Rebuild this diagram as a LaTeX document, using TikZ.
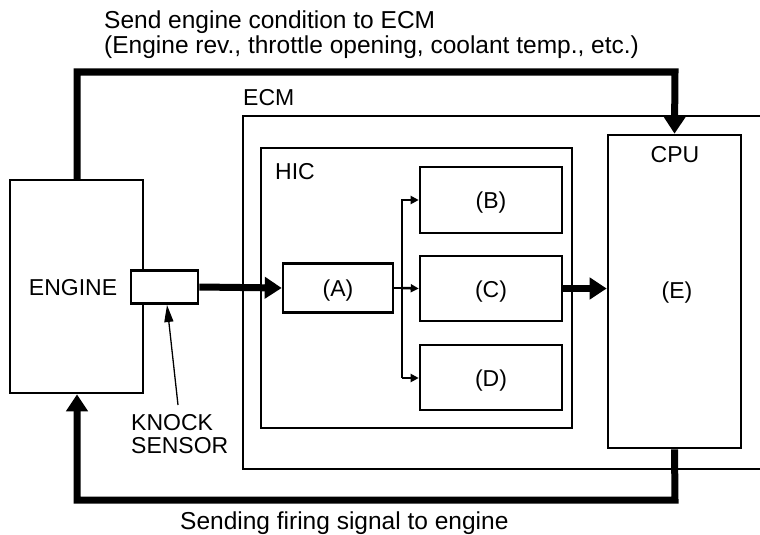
\documentclass[tikz,border=0pt]{standalone}
\usepackage{fontspec}
\setmainfont{Liberation Sans}
\usetikzlibrary{arrows.meta}
\begin{document}
\begin{tikzpicture}[x=1pt,y=-1pt,
  box/.style={draw,line width=2.6pt,fill=white,inner sep=0pt},
  thinbox/.style={draw,line width=1.4pt},
  lbl/.style={font=\fontsize{23}{27}\selectfont,inner sep=0pt},
  captxt/.style={font=\fontsize{24.5}{29}\selectfont,inner sep=0pt,anchor=base west},
  bigarrow/.style={line width=7pt,-{Triangle[length=17pt,width=21pt]}},
  midarrow/.style={line width=2.5pt,-{Triangle[length=8pt,width=8pt]}},
  pointer/.style={line width=1.3pt,-{Triangle[length=17pt,width=9pt]}}]
\useasboundingbox (0,0) rectangle (760,535);
\fill[white] (0,0) rectangle (760,535);
% ECM (open to the right)
\draw[line width=1.4pt] (760,116) -- (243,116) -- (243,469) -- (760,469);
\node[lbl,anchor=base west] (ecmlbl) at (243,105) {ECM};
% HIC
\draw[thinbox] (261,148) rectangle (572,428);
\node[lbl,anchor=base west] (hiclbl) at (275,179) {HIC};
% engine
\node[box,minimum width=133pt,minimum height=213pt] (engine) at (76.5,286.5) {};
\node[lbl,anchor=base] (enginelbl) at (73,295) {ENGINE};
\node[box,minimum width=67pt,minimum height=33pt] (sensor) at (164.5,287) {};
% HIC blocks
\node[box,minimum width=110pt,minimum height=49pt] (A) at (338,288) {};
\node[lbl,anchor=base] at (338,296) {(A)};
\node[box,minimum width=142pt,minimum height=66pt] (B) at (491,200) {};
\node[lbl,anchor=base] at (491,208) {(B)};
\node[box,minimum width=142pt,minimum height=65pt] (C) at (491,288.5) {};
\node[lbl,anchor=base] at (491,297) {(C)};
\node[box,minimum width=142pt,minimum height=65pt] (D) at (491,377.5) {};
\node[lbl,anchor=base] at (491,386) {(D)};
% CPU
\node[box,minimum width=133pt,minimum height=313pt] (cpu) at (674.5,291.5) {};
\node[lbl,anchor=base] (cpulbl) at (675,162) {CPU};
\node[lbl,anchor=base] (elbl) at (677,298) {(E)};
% branch
\coordinate (br) at (402,288);
\draw[line width=2.5pt] (A.east) -- (br);
\draw[line width=2.5pt] (402,199) -- (402,378);
\draw[midarrow] (br) -- (C.west);
\draw[midarrow] (402,200) -- (B.west);
\draw[midarrow] (402,378) -- (D.west |- 0,378);
% thick arrows
\draw[bigarrow] (sensor.east) -- (A.west);
\draw[bigarrow] (C.east) -- (cpu.west |- C.east);
% top loop
\draw[bigarrow] (77,180) -- (77,72) -- (675,72) -- (cpu.north);
% bottom loop
\draw[bigarrow] (cpu.south) -- (675,500) -- (77,500) -- (engine.south -| 77,0);
% knock sensor pointer
\coordinate (kp) at (178,405);
\draw[pointer] (kp) -- (167,305);
\node[lbl,anchor=base west] (knock) at (131,430) {KNOCK};
\node[lbl,anchor=base west] (sens) at (131,453) {SENSOR};
% captions
\node[captxt] (t1) at (104,29) {Send engine condition to ECM};
\node[captxt] (t2) at (104,53) {(Engine rev., throttle opening, coolant temp., etc.)};
\node[captxt] (t3) at (180,529) {Sending firing signal to engine};
\end{tikzpicture}
\end{document}
